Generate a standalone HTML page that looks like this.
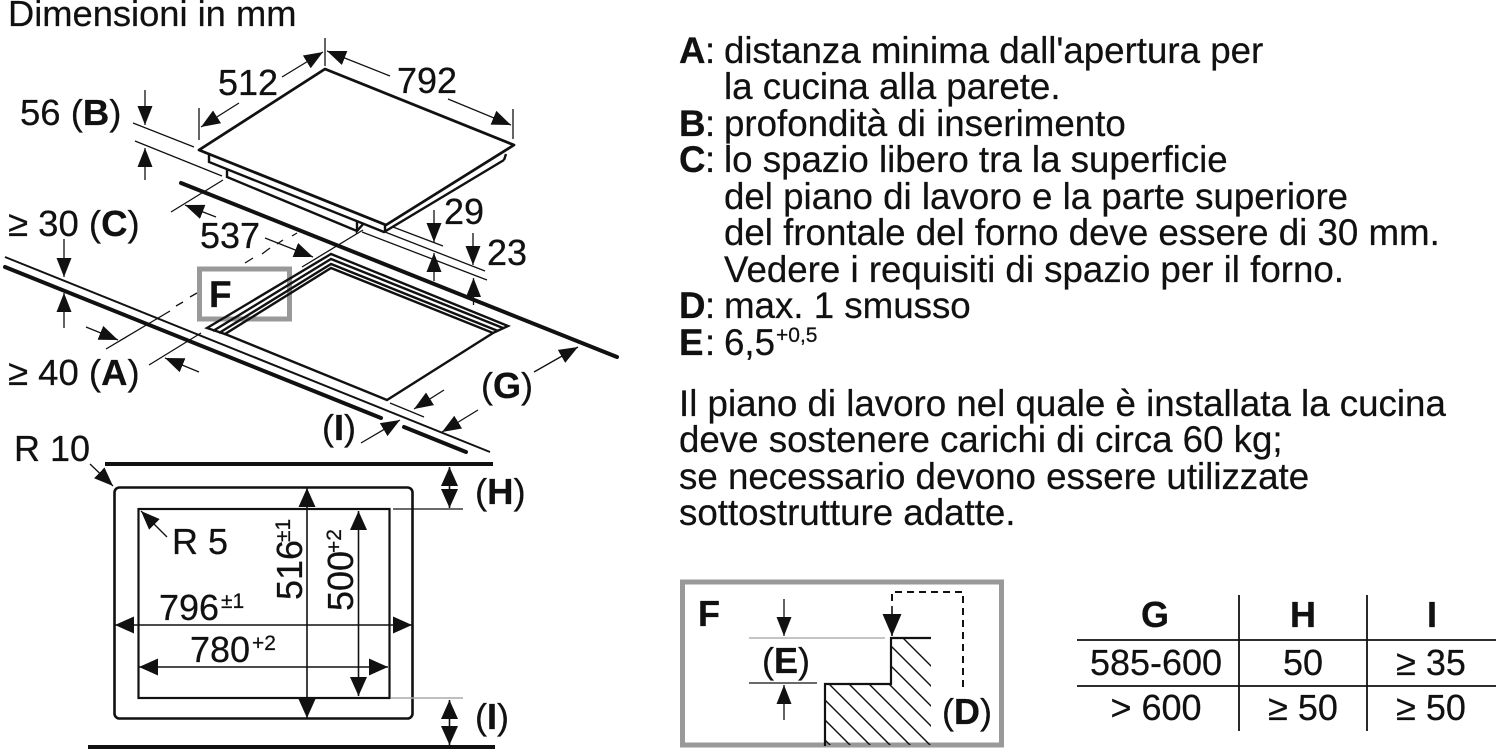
<!DOCTYPE html>
<html><head><meta charset="utf-8"><title>Dimensioni in mm</title>
<style>
html,body{margin:0;padding:0;background:#fff}
svg{display:block}
text{font-family:"Liberation Sans",Arial,sans-serif;font-size:36px;fill:#111;stroke:#111;stroke-width:.25}
.b{font-weight:bold}
.s{font-size:21px}
.l text{font-size:36.7px}
.l text.s{font-size:21px}
.d{stroke:#111;stroke-width:1.3;fill:none}
.m{stroke:#111;stroke-width:2.4;fill:none}
.t{stroke:#111;stroke-width:4;fill:none;stroke-linecap:round}
</style></head><body>
<svg width="1500" height="755" viewBox="0 0 1500 755" xmlns="http://www.w3.org/2000/svg">
<defs>
<marker id="a" viewBox="0 0 19 15" refX="19" refY="7.5" markerWidth="19" markerHeight="15" markerUnits="userSpaceOnUse" orient="auto-start-reverse"><path d="M0 0L19 7.5L0 15Z" fill="#111"/></marker>
<marker id="p" viewBox="0 0 19 17" refX="19" refY="8.5" markerWidth="19" markerHeight="17" markerUnits="userSpaceOnUse" orient="auto-start-reverse"><path d="M0 0L19 8.5L0 17Z" fill="#111"/></marker>
<marker id="k" viewBox="0 0 22 19" refX="22" refY="9.5" markerWidth="22" markerHeight="19" markerUnits="userSpaceOnUse" orient="auto-start-reverse"><path d="M0 0L22 9.5L0 19Z" fill="#111"/></marker>
<clipPath id="hc"><path d="M825 684H891V638H931V745H825Z"/></clipPath>
</defs>

<!-- title -->
<text x="8" y="26" style="font-size:36.3px">Dimensioni in mm</text>

<!-- hob -->
<path class="m" d="M209 155V162L384 232L504 160M227 170V177L357 231M357 222V231L364 223M385 225V232M506 154L504 160"/>
<polygon points="325,69 514,145 386,225 199,150" fill="#fff" stroke="#111" stroke-width="2.8" stroke-linejoin="round"/>

<!-- worktop -->
<line class="t" x1="181" y1="183" x2="617" y2="357"/>
<line class="d" style="stroke-width:2" x1="5" y1="257" x2="490" y2="452"/>
<line class="t" x1="5" y1="267" x2="381" y2="418"/>
<line class="t" x1="404" y1="427" x2="466" y2="452"/>

<!-- dim lines hob -->
<g class="d">
<line x1="325" y1="38" x2="325" y2="66"/>
<line x1="199" y1="108" x2="199" y2="140"/>
<line x1="513" y1="109" x2="513" y2="139"/>
<line x1="282" y1="77" x2="323" y2="52" marker-end="url(#a)"/>
<line x1="239" y1="103" x2="201" y2="127" marker-end="url(#a)"/>
<line x1="390" y1="76" x2="327" y2="51" marker-end="url(#a)"/>
<line x1="448" y1="99" x2="511" y2="125" marker-end="url(#a)"/>
<line x1="145" y1="90" x2="145" y2="125" marker-end="url(#a)"/>
<line x1="145" y1="180" x2="145" y2="148" marker-end="url(#a)"/>
<line x1="133" y1="123" x2="194" y2="147"/>
<line x1="135" y1="141" x2="222" y2="176"/>
<line x1="223" y1="180" x2="171" y2="212"/>
<line x1="216" y1="217" x2="185" y2="205" marker-end="url(#a)"/>
<line x1="265" y1="238" x2="313" y2="257" marker-end="url(#a)"/>
<line x1="363" y1="230" x2="302" y2="267"/>
<line x1="297" y1="233" x2="292" y2="236"/>
<line x1="283" y1="240" x2="277" y2="244"/>
<line x1="270" y1="248" x2="262" y2="254"/>
<line x1="253" y1="258" x2="245" y2="263"/>
<line x1="197" y1="293" x2="190" y2="297"/>
<line x1="183" y1="302" x2="176" y2="306"/>
<line x1="170" y1="311" x2="106" y2="349"/>
<line x1="86" y1="327" x2="118" y2="340" marker-end="url(#a)"/>
<line x1="199" y1="372" x2="165" y2="358" marker-end="url(#a)"/>
<line x1="149" y1="365" x2="201" y2="333"/>
<line x1="64" y1="239" x2="64" y2="277" marker-end="url(#a)"/>
<line x1="64" y1="328" x2="64" y2="293" marker-end="url(#a)"/>
<line x1="393" y1="227" x2="443" y2="246"/>
<line x1="385" y1="232" x2="485" y2="271"/>
<line x1="362" y1="232" x2="487" y2="280"/>
<line x1="434" y1="210" x2="434" y2="242" marker-end="url(#a)"/>
<line x1="434" y1="281" x2="434" y2="253" marker-end="url(#a)"/>
<line x1="473" y1="233" x2="473" y2="265" marker-end="url(#a)"/>
<line x1="473.5" y1="305" x2="473.5" y2="278" marker-end="url(#a)"/>
<line x1="534" y1="372" x2="578" y2="347" marker-end="url(#a)"/>
<line x1="478" y1="410" x2="442" y2="432" marker-end="url(#a)"/>
<line x1="444" y1="390" x2="414" y2="409" marker-end="url(#a)"/>
<line x1="390" y1="403" x2="424" y2="417"/>
<line x1="361" y1="443" x2="400" y2="420" marker-end="url(#a)"/>
</g>

<!-- F marker -->
<rect x="199.5" y="269" width="90" height="50" fill="#fff" stroke="#999" stroke-width="5"/>
<text class="b" x="209" y="307" style="font-size:37px">F</text>

<!-- cutout -->
<g class="m">
<path d="M207 328L331 254L508 326L493 333L331 268L225 334Z" />
<path d="M213 331L331 259L503 328M219 333L331 264L498 331"/>
<path d="M225 334L387 400L493 333"/>
</g>

<!-- hob labels -->
<text x="218" y="95">512</text>
<text x="397" y="93">792</text>
<text x="20" y="125" style="font-size:36.5px">56 (<tspan class="b">B</tspan>)</text>
<text x="8" y="236" style="font-size:36.5px">≥ 30 (<tspan class="b">C</tspan>)</text>
<text x="200" y="248">537</text>
<text x="444" y="224">29</text>
<text x="487" y="265">23</text>
<text x="8" y="385" style="font-size:36.5px">≥ 40 (<tspan class="b">A</tspan>)</text>
<text x="481" y="398">(<tspan class="b">G</tspan>)</text>
<text x="322" y="440">(<tspan class="b">I</tspan>)</text>
<text x="14" y="461">R 10</text>

<!-- plan -->
<line x1="105" y1="464" x2="493" y2="464" stroke="#111" stroke-width="4"/>
<line x1="88" y1="747" x2="495" y2="747" stroke="#111" stroke-width="4"/>
<rect x="114.5" y="487.5" width="298" height="231" rx="5" fill="none" stroke="#111" stroke-width="2.6"/>
<rect x="138.5" y="509" width="251" height="189" fill="none" stroke="#111" stroke-width="2.2"/>
<line x1="393" y1="509" x2="463" y2="509" class="d"/>
<line x1="391" y1="698" x2="463" y2="698" stroke="#aaa" stroke-width="1.4"/>
<g class="d" style="stroke-width:1.6">
<line x1="307" y1="488" x2="307" y2="718" marker-start="url(#p)" marker-end="url(#p)"/>
<line x1="358.5" y1="511" x2="358.5" y2="696" marker-start="url(#p)" marker-end="url(#p)"/>
<line x1="115" y1="625" x2="412" y2="625" marker-start="url(#p)" marker-end="url(#p)"/>
<line x1="139" y1="667" x2="388" y2="667" marker-start="url(#p)" marker-end="url(#p)"/>
<line x1="449.5" y1="467" x2="449.5" y2="508" marker-start="url(#p)" marker-end="url(#p)"/>
<line x1="449.5" y1="700" x2="449.5" y2="745" marker-start="url(#p)" marker-end="url(#p)"/>
</g>
<line class="d" x1="90" y1="464" x2="113" y2="486" marker-end="url(#a)"/>
<line class="d" x1="167" y1="537" x2="141" y2="511" marker-end="url(#a)"/>
<text x="475" y="504" style="font-size:36.5px">(<tspan class="b">H</tspan>)</text>
<text x="475" y="729">(<tspan class="b">I</tspan>)</text>
<text x="172" y="554">R 5</text>
<text x="159" y="620">796</text><text class="s" x="221" y="608">±1</text>
<text x="190" y="662">780</text><text class="s" x="252" y="650">+2</text>
<g transform="translate(302,600) rotate(-90)"><text x="0" y="0">516</text><text class="s" x="58" y="-12">±1</text></g>
<g transform="translate(353,611) rotate(-90)"><text x="0" y="0">500</text><text class="s" x="58" y="-12">+2</text></g>

<!-- legend -->
<g class="l">
<text class="b" x="679" y="63">A</text><text x="705" y="63">:</text><text x="724" y="63">distanza minima dall'apertura per</text>
<text x="724" y="99">la cucina alla parete.</text>
<text class="b" x="679" y="136">B</text><text x="705" y="136">:</text><text x="724" y="136">profondità di inserimento</text>
<text class="b" x="679" y="172">C</text><text x="705" y="172">:</text><text x="724" y="172">lo spazio libero tra la superficie</text>
<text x="724" y="209">del piano di lavoro e la parte superiore</text>
<text x="724" y="245">del frontale del forno deve essere di 30 mm.</text>
<text x="724" y="282">Vedere i requisiti di spazio per il forno.</text>
<text class="b" x="679" y="318">D</text><text x="705" y="318">:</text><text x="724" y="318">max. 1 smusso</text>
<text class="b" x="679" y="355">E</text><text x="705" y="355">:</text><text x="724" y="355">6,5</text><text class="s" x="776" y="342">+0,5</text>
<text x="679" y="416">Il piano di lavoro nel quale è installata la cucina</text>
<text x="679" y="452">deve sostenere carichi di circa 60 kg;</text>
<text x="679" y="489">se necessario devono essere utilizzate</text>
<text x="679" y="525">sottostrutture adatte.</text>
</g>

<!-- detail F -->
<rect x="682.5" y="582" width="319" height="163" fill="none" stroke="#999" stroke-width="5"/>
<text class="b" x="698" y="626">F</text>
<line x1="749" y1="638" x2="885" y2="638" stroke="#bbb" stroke-width="1.8"/>
<line x1="749" y1="683" x2="817" y2="683" class="d"/>
<line class="d" x1="784" y1="599" x2="784" y2="636" marker-end="url(#a)"/>
<line class="d" x1="784" y1="720" x2="784" y2="685" marker-end="url(#a)"/>
<text x="762" y="673">(<tspan class="b">E</tspan>)</text>
<g clip-path="url(#hc)" stroke="#111" stroke-width="1.4">
<line x1="805" y1="540" x2="1005" y2="740"/>
<line x1="785" y1="540" x2="985" y2="740"/>
<line x1="765" y1="540" x2="975" y2="750"/>
<line x1="745" y1="540" x2="955" y2="750"/>
<line x1="725" y1="540" x2="935" y2="750"/>
<line x1="705" y1="540" x2="915" y2="750"/>
<line x1="685" y1="540" x2="895" y2="750"/>
<line x1="665" y1="540" x2="875" y2="750"/>
<line x1="645" y1="540" x2="855" y2="750"/>
<line x1="625" y1="540" x2="835" y2="750"/>
<line x1="605" y1="540" x2="815" y2="750"/>
</g>
<path d="M825 746V684H891V638H931" fill="none" stroke="#111" stroke-width="2.2"/>
<path d="M892 601V592H963V687" fill="none" stroke="#111" stroke-width="2" stroke-dasharray="7 5"/>
<line class="d" style="stroke-width:1.6" x1="892" y1="606" x2="892" y2="636" marker-end="url(#k)"/>
<text x="942" y="724">(<tspan class="b">D</tspan>)</text>

<!-- table -->
<g stroke="#111" stroke-width="1.8">
<line x1="1077" y1="640" x2="1496" y2="640"/>
<line x1="1077" y1="686" x2="1496" y2="686"/>
<line x1="1239" y1="595" x2="1239" y2="731"/>
<line x1="1367" y1="595" x2="1367" y2="731"/>
</g>
<g text-anchor="middle">
<text class="b" x="1155" y="627">G</text><text class="b" x="1303" y="627">H</text><text class="b" x="1432" y="627">I</text>
<text x="1156" y="675">585-600</text><text x="1303" y="675">50</text><text x="1431" y="675">≥ 35</text>
<text x="1156" y="720">&gt; 600</text><text x="1303" y="720">≥ 50</text><text x="1431" y="720">≥ 50</text>
</g>
</svg>
</body></html>
